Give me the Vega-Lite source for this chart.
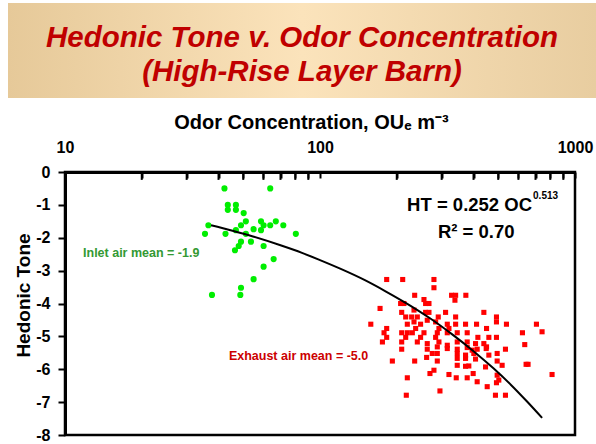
{
  "$schema": "https://vega.github.io/schema/vega-lite/v6.json",
  "padding": {"left": 8, "top": 3, "right": 0, "bottom": 0},
  "background": "white",
  "config": {"font": "Liberation Sans"},
  "datasets": {
    "green": [
      {"oc": 42.2, "ht": -0.5}, {"oc": 63.8, "ht": -0.5}, {"oc": 43.5, "ht": -1.0}, {"oc": 43.5, "ht": -1.15},
      {"oc": 46.8, "ht": -1.0}, {"oc": 46.8, "ht": -1.15}, {"oc": 50.2, "ht": -1.25}, {"oc": 36.5, "ht": -1.62},
      {"oc": 35.4, "ht": -1.88}, {"oc": 42.6, "ht": -1.88}, {"oc": 46.8, "ht": -1.77}, {"oc": 49.0, "ht": -1.62},
      {"oc": 51.2, "ht": -1.5}, {"oc": 51.2, "ht": -1.88}, {"oc": 54.9, "ht": -1.74}, {"oc": 58.7, "ht": -1.5},
      {"oc": 58.7, "ht": -1.77}, {"oc": 60.1, "ht": -1.62}, {"oc": 63.8, "ht": -1.62}, {"oc": 67.1, "ht": -1.5},
      {"oc": 71.8, "ht": -1.62}, {"oc": 80.4, "ht": -1.88}, {"oc": 49.0, "ht": -2.12}, {"oc": 48.0, "ht": -2.25},
      {"oc": 46.4, "ht": -2.38}, {"oc": 53.6, "ht": -2.12}, {"oc": 60.1, "ht": -2.25}, {"oc": 65.8, "ht": -2.65},
      {"oc": 60.1, "ht": -2.88}, {"oc": 54.9, "ht": -3.26}, {"oc": 49.0, "ht": -3.52}, {"oc": 48.7, "ht": -3.74},
      {"oc": 37.7, "ht": -3.74}
    ],
    "red": [
      {"oc": 182.6, "ht": -3.27}, {"oc": 211.0, "ht": -3.27}, {"oc": 279.8, "ht": -3.27}, {"oc": 279.8, "ht": -3.52},
      {"oc": 235.1, "ht": -3.75}, {"oc": 328.1, "ht": -3.75}, {"oc": 340.3, "ht": -3.75}, {"oc": 373.2, "ht": -3.75},
      {"oc": 338.2, "ht": -3.9}, {"oc": 255.7, "ht": -3.88}, {"oc": 207.1, "ht": -4.0}, {"oc": 213.4, "ht": -4.0},
      {"oc": 259.5, "ht": -4.0}, {"oc": 267.5, "ht": -4.0}, {"oc": 172.0, "ht": -4.15}, {"oc": 233.7, "ht": -4.2},
      {"oc": 259.5, "ht": -4.27}, {"oc": 267.5, "ht": -4.27}, {"oc": 310.8, "ht": -4.27}, {"oc": 439.1, "ht": -4.27},
      {"oc": 209.1, "ht": -4.27}, {"oc": 216.8, "ht": -4.41}, {"oc": 228.8, "ht": -4.41}, {"oc": 240.8, "ht": -4.41},
      {"oc": 290.9, "ht": -4.41}, {"oc": 340.3, "ht": -4.41}, {"oc": 492.1, "ht": -4.41}, {"oc": 158.2, "ht": -4.63},
      {"oc": 220.0, "ht": -4.63}, {"oc": 233.7, "ht": -4.56}, {"oc": 248.0, "ht": -4.63}, {"oc": 284.1, "ht": -4.56},
      {"oc": 315.6, "ht": -4.63}, {"oc": 340.3, "ht": -4.63}, {"oc": 372.2, "ht": -4.63}, {"oc": 411.1, "ht": -4.63},
      {"oc": 492.1, "ht": -4.56}, {"oc": 538.5, "ht": -4.63}, {"oc": 705.9, "ht": -4.63}, {"oc": 182.6, "ht": -4.76},
      {"oc": 237.2, "ht": -4.76}, {"oc": 263.4, "ht": -4.51}, {"oc": 292.7, "ht": -4.76}, {"oc": 320.4, "ht": -4.76},
      {"oc": 449.9, "ht": -4.76}, {"oc": 178.3, "ht": -4.89}, {"oc": 209.1, "ht": -4.89}, {"oc": 220.0, "ht": -4.89},
      {"oc": 230.2, "ht": -4.89}, {"oc": 255.7, "ht": -4.89}, {"oc": 288.4, "ht": -4.89}, {"oc": 315.6, "ht": -4.89},
      {"oc": 345.3, "ht": -4.89}, {"oc": 377.8, "ht": -4.89}, {"oc": 622.1, "ht": -4.89}, {"oc": 742.8, "ht": -4.86},
      {"oc": 182.6, "ht": -5.03}, {"oc": 216.8, "ht": -5.03}, {"oc": 248.0, "ht": -5.03}, {"oc": 284.1, "ht": -5.03},
      {"oc": 416.0, "ht": -5.03}, {"oc": 459.4, "ht": -5.03}, {"oc": 492.1, "ht": -5.03}, {"oc": 175.7, "ht": -5.17},
      {"oc": 209.1, "ht": -5.17}, {"oc": 240.8, "ht": -5.17}, {"oc": 263.4, "ht": -5.22}, {"oc": 292.7, "ht": -5.17},
      {"oc": 315.6, "ht": -5.27}, {"oc": 345.3, "ht": -5.17}, {"oc": 377.8, "ht": -5.17}, {"oc": 407.3, "ht": -5.22},
      {"oc": 439.1, "ht": -5.22}, {"oc": 449.9, "ht": -5.32}, {"oc": 209.1, "ht": -5.39}, {"oc": 263.4, "ht": -5.39},
      {"oc": 288.4, "ht": -5.32}, {"oc": 315.6, "ht": -5.37}, {"oc": 345.3, "ht": -5.39}, {"oc": 377.8, "ht": -5.34},
      {"oc": 395.1, "ht": -5.42}, {"oc": 413.4, "ht": -5.39}, {"oc": 448.5, "ht": -5.37}, {"oc": 533.7, "ht": -5.39},
      {"oc": 635.2, "ht": -5.25}, {"oc": 275.6, "ht": -5.52}, {"oc": 288.4, "ht": -5.52}, {"oc": 345.3, "ht": -5.52},
      {"oc": 372.2, "ht": -5.57}, {"oc": 401.1, "ht": -5.52}, {"oc": 459.4, "ht": -5.57}, {"oc": 495.2, "ht": -5.52},
      {"oc": 192.2, "ht": -5.75}, {"oc": 235.1, "ht": -5.75}, {"oc": 261.9, "ht": -5.64}, {"oc": 288.4, "ht": -5.75},
      {"oc": 345.3, "ht": -5.67}, {"oc": 372.2, "ht": -5.67}, {"oc": 407.3, "ht": -5.69}, {"oc": 495.2, "ht": -5.75},
      {"oc": 517.9, "ht": -5.88}, {"oc": 643.0, "ht": -5.85}, {"oc": 654.6, "ht": -5.85}, {"oc": 279.8, "ht": -6.03},
      {"oc": 345.3, "ht": -5.88}, {"oc": 372.2, "ht": -5.91}, {"oc": 383.4, "ht": -5.9}, {"oc": 445.8, "ht": -5.93},
      {"oc": 269.9, "ht": -6.13}, {"oc": 320.4, "ht": -6.16}, {"oc": 398.7, "ht": -6.13}, {"oc": 495.2, "ht": -6.18},
      {"oc": 812.9, "ht": -6.16}, {"oc": 220.0, "ht": -6.26}, {"oc": 342.2, "ht": -6.26}, {"oc": 377.8, "ht": -6.26},
      {"oc": 502.6, "ht": -6.33}, {"oc": 413.4, "ht": -6.38}, {"oc": 492.1, "ht": -6.41}, {"oc": 452.6, "ht": -6.53},
      {"oc": 295.4, "ht": -6.66}, {"oc": 218.0, "ht": -6.79}, {"oc": 487.6, "ht": -6.79}, {"oc": 533.7, "ht": -6.79}
    ],
    "fit": [
      {"oc": 37.4, "ht": -1.62}, {"oc": 45, "ht": -1.78}, {"oc": 55, "ht": -1.97}, {"oc": 70, "ht": -2.23},
      {"oc": 85, "ht": -2.46}, {"oc": 100, "ht": -2.68}, {"oc": 120, "ht": -2.94}, {"oc": 150, "ht": -3.29},
      {"oc": 180, "ht": -3.62}, {"oc": 220, "ht": -4.01}, {"oc": 270, "ht": -4.45}, {"oc": 330, "ht": -4.94},
      {"oc": 400, "ht": -5.45}, {"oc": 480, "ht": -5.98}, {"oc": 560, "ht": -6.47}, {"oc": 650, "ht": -6.99},
      {"oc": 743, "ht": -7.48}
    ],
    "minorticks": [
      {"oc": 20}, {"oc": 30}, {"oc": 40}, {"oc": 50}, {"oc": 60}, {"oc": 70}, {"oc": 80}, {"oc": 90},
      {"oc": 200}, {"oc": 300}, {"oc": 400}, {"oc": 500}, {"oc": 600}, {"oc": 700}, {"oc": 800}, {"oc": 900}
    ]
  },
  "spacing": 12,
  "vconcat": [
    {
      "width": 588,
      "height": 95,
      "view": {"stroke": null, "fill": {"gradient": "linear", "x1": 0, "x2": 1, "y1": 0, "y2": 0, "stops": [{"offset": 0, "color": "#e6c999"}, {"offset": 0.5, "color": "#fbe3bb"}, {"offset": 1, "color": "#e8cda0"}]}},
      "data": {"values": [{"title": "Hedonic Tone v. Odor Concentration\n(High-Rise Layer Barn)"}]},
      "mark": {"type": "text", "lineBreak": "\n", "fontSize": 29.5, "fontWeight": "bold", "fontStyle": "italic", "color": "#c00000", "lineHeight": 34, "baseline": "middle", "dy": -13},
      "encoding": {"text": {"field": "title"}}
    },
    {
      "spacing": 4,
      "hconcat": [
        {
          "width": 1,
          "height": 10,
          "view": {"stroke": null},
          "data": {"values": [{}]},
          "mark": {"type": "text"},
          "encoding": {"text": {"value": ""}}
        },
        {
          "width": 510,
          "height": 263,
          "view": {"stroke": "black", "strokeWidth": 2.5},
          "layer": [
            {
              "encoding": {
                "x": {"field": "oc", "type": "quantitative",
                  "scale": {"type": "log", "domain": [10, 1000], "nice": false},
                  "axis": {"orient": "top", "title": "Odor Concentration, OUₑ m⁻³", "titleX": 246,
                    "values": [10, 20, 30, 40, 50, 60, 70, 80, 90, 100, 200, 300, 400, 500, 600, 700, 800, 900, 1000],
                    "labelExpr": "datum.value == 10 || datum.value == 100 || datum.value == 1000 ? '' + datum.value : ''",
                    "labelFlush": false, "labelOverlap": false, "grid": false, "zindex": 1,
                    "tickSize": -6, "tickWidth": 2, "tickColor": "black",
                    "domainColor": "black", "domainWidth": 3,
                    "labelFontSize": 16, "labelFontWeight": "bold", "labelColor": "black", "labelPadding": 23,
                    "titleFontSize": 20, "titleFontWeight": "bold", "titleColor": "black", "titlePadding": 7}},
                "y": {"field": "ht", "type": "quantitative",
                  "scale": {"domain": [-8, 0], "nice": false},
                  "axis": {"title": "Hedonic Tone", "titleY": 123, "values": [0, -1, -2, -3, -4, -5, -6, -7, -8],
                    "labelExpr": "'' + datum.value", "labelOverlap": false, "labelFlush": false, "grid": false, "zindex": 1,
                    "tickSize": 7, "tickWidth": 2, "tickColor": "black",
                    "domainColor": "black", "domainWidth": 3,
                    "labelFontSize": 16, "labelFontWeight": "bold", "labelColor": "black", "labelPadding": 8,
                    "titleFontSize": 19, "titleFontWeight": "bold", "titleColor": "black", "titlePadding": 2}}
              },
              "layer": [
                {"data": {"name": "green"}, "mark": {"type": "circle", "size": 38, "color": "#00ee00", "opacity": 1}},
                {"data": {"name": "red"}, "mark": {"type": "square", "size": 26, "color": "#ff0000", "opacity": 1}},
                {"data": {"name": "fit"}, "mark": {"type": "line", "color": "black", "strokeWidth": 2, "interpolate": "monotone"}}
              ]
            },
            {
              "data": {"name": "minorticks"},
              "mark": {"type": "rule", "color": "black", "strokeWidth": 2},
              "encoding": {
                "x": {"field": "oc", "type": "quantitative",
                  "scale": {"type": "log", "domain": [10, 1000], "nice": false},
                  "axis": {"orient": "top", "title": "Odor Concentration, OUₑ m⁻³", "titleX": 246,
                    "values": [10, 20, 30, 40, 50, 60, 70, 80, 90, 100, 200, 300, 400, 500, 600, 700, 800, 900, 1000],
                    "labelExpr": "datum.value == 10 || datum.value == 100 || datum.value == 1000 ? '' + datum.value : ''",
                    "labelFlush": false, "labelOverlap": false, "grid": false, "zindex": 1,
                    "tickSize": -6, "tickWidth": 2, "tickColor": "black",
                    "domainColor": "black", "domainWidth": 3,
                    "labelFontSize": 16, "labelFontWeight": "bold", "labelColor": "black", "labelPadding": 23,
                    "titleFontSize": 20, "titleFontWeight": "bold", "titleColor": "black", "titlePadding": 7}},
                "y": {"datum": 0, "type": "quantitative",
                  "scale": {"domain": [-8, 0], "nice": false},
                  "axis": {"title": "Hedonic Tone", "titleY": 123, "values": [0, -1, -2, -3, -4, -5, -6, -7, -8],
                    "labelExpr": "'' + datum.value", "labelOverlap": false, "labelFlush": false, "grid": false, "zindex": 1,
                    "tickSize": 7, "tickWidth": 2, "tickColor": "black",
                    "domainColor": "black", "domainWidth": 3,
                    "labelFontSize": 16, "labelFontWeight": "bold", "labelColor": "black", "labelPadding": 8,
                    "titleFontSize": 19, "titleFontWeight": "bold", "titleColor": "black", "titlePadding": 2}},
                "y2": {"datum": -0.24}
              }
            },
            {
              "data": {"values": [{"label": "HT = 0.252 OC"}]},
              "mark": {"type": "text", "align": "right", "baseline": "middle", "fontSize": 18.5, "fontWeight": "bold", "color": "black"},
              "encoding": {
                "text": {"field": "label"},
                "x": {"datum": 678.6, "type": "quantitative",
                  "scale": {"type": "log", "domain": [10, 1000], "nice": false},
                  "axis": {"orient": "top", "title": "Odor Concentration, OUₑ m⁻³", "titleX": 246,
                    "values": [10, 20, 30, 40, 50, 60, 70, 80, 90, 100, 200, 300, 400, 500, 600, 700, 800, 900, 1000],
                    "labelExpr": "datum.value == 10 || datum.value == 100 || datum.value == 1000 ? '' + datum.value : ''",
                    "labelFlush": false, "labelOverlap": false, "grid": false, "zindex": 1,
                    "tickSize": -6, "tickWidth": 2, "tickColor": "black",
                    "domainColor": "black", "domainWidth": 3,
                    "labelFontSize": 16, "labelFontWeight": "bold", "labelColor": "black", "labelPadding": 23,
                    "titleFontSize": 20, "titleFontWeight": "bold", "titleColor": "black", "titlePadding": 7}},
                "y": {"datum": -1.01, "type": "quantitative",
                  "scale": {"domain": [-8, 0], "nice": false},
                  "axis": {"title": "Hedonic Tone", "titleY": 123, "values": [0, -1, -2, -3, -4, -5, -6, -7, -8],
                    "labelExpr": "'' + datum.value", "labelOverlap": false, "labelFlush": false, "grid": false, "zindex": 1,
                    "tickSize": 7, "tickWidth": 2, "tickColor": "black",
                    "domainColor": "black", "domainWidth": 3,
                    "labelFontSize": 16, "labelFontWeight": "bold", "labelColor": "black", "labelPadding": 8,
                    "titleFontSize": 19, "titleFontWeight": "bold", "titleColor": "black", "titlePadding": 2}}
              }
            },
            {
              "data": {"values": [{"label": "0.513"}]},
              "mark": {"type": "text", "align": "left", "baseline": "middle", "fontSize": 10, "fontWeight": "bold", "color": "black", "dx": 1, "dy": -9},
              "encoding": {
                "text": {"field": "label"},
                "x": {"datum": 678.6, "type": "quantitative",
                  "scale": {"type": "log", "domain": [10, 1000], "nice": false},
                  "axis": {"orient": "top", "title": "Odor Concentration, OUₑ m⁻³", "titleX": 246,
                    "values": [10, 20, 30, 40, 50, 60, 70, 80, 90, 100, 200, 300, 400, 500, 600, 700, 800, 900, 1000],
                    "labelExpr": "datum.value == 10 || datum.value == 100 || datum.value == 1000 ? '' + datum.value : ''",
                    "labelFlush": false, "labelOverlap": false, "grid": false, "zindex": 1,
                    "tickSize": -6, "tickWidth": 2, "tickColor": "black",
                    "domainColor": "black", "domainWidth": 3,
                    "labelFontSize": 16, "labelFontWeight": "bold", "labelColor": "black", "labelPadding": 23,
                    "titleFontSize": 20, "titleFontWeight": "bold", "titleColor": "black", "titlePadding": 7}},
                "y": {"datum": -1.01, "type": "quantitative",
                  "scale": {"domain": [-8, 0], "nice": false},
                  "axis": {"title": "Hedonic Tone", "titleY": 123, "values": [0, -1, -2, -3, -4, -5, -6, -7, -8],
                    "labelExpr": "'' + datum.value", "labelOverlap": false, "labelFlush": false, "grid": false, "zindex": 1,
                    "tickSize": 7, "tickWidth": 2, "tickColor": "black",
                    "domainColor": "black", "domainWidth": 3,
                    "labelFontSize": 16, "labelFontWeight": "bold", "labelColor": "black", "labelPadding": 8,
                    "titleFontSize": 19, "titleFontWeight": "bold", "titleColor": "black", "titlePadding": 2}}
              }
            },
            {
              "data": {"values": [{"label": "R² = 0.70"}]},
              "mark": {"type": "text", "align": "center", "baseline": "middle", "fontSize": 18.5, "fontWeight": "bold", "color": "black"},
              "encoding": {
                "text": {"field": "label"},
                "x": {"datum": 410, "type": "quantitative",
                  "scale": {"type": "log", "domain": [10, 1000], "nice": false},
                  "axis": {"orient": "top", "title": "Odor Concentration, OUₑ m⁻³", "titleX": 246,
                    "values": [10, 20, 30, 40, 50, 60, 70, 80, 90, 100, 200, 300, 400, 500, 600, 700, 800, 900, 1000],
                    "labelExpr": "datum.value == 10 || datum.value == 100 || datum.value == 1000 ? '' + datum.value : ''",
                    "labelFlush": false, "labelOverlap": false, "grid": false, "zindex": 1,
                    "tickSize": -6, "tickWidth": 2, "tickColor": "black",
                    "domainColor": "black", "domainWidth": 3,
                    "labelFontSize": 16, "labelFontWeight": "bold", "labelColor": "black", "labelPadding": 23,
                    "titleFontSize": 20, "titleFontWeight": "bold", "titleColor": "black", "titlePadding": 7}},
                "y": {"datum": -1.83, "type": "quantitative",
                  "scale": {"domain": [-8, 0], "nice": false},
                  "axis": {"title": "Hedonic Tone", "titleY": 123, "values": [0, -1, -2, -3, -4, -5, -6, -7, -8],
                    "labelExpr": "'' + datum.value", "labelOverlap": false, "labelFlush": false, "grid": false, "zindex": 1,
                    "tickSize": 7, "tickWidth": 2, "tickColor": "black",
                    "domainColor": "black", "domainWidth": 3,
                    "labelFontSize": 16, "labelFontWeight": "bold", "labelColor": "black", "labelPadding": 8,
                    "titleFontSize": 19, "titleFontWeight": "bold", "titleColor": "black", "titlePadding": 2}}
              }
            },
            {
              "data": {"values": [{"label": "Inlet air mean = -1.9"}]},
              "mark": {"type": "text", "align": "center", "baseline": "middle", "fontSize": 12.5, "fontWeight": "bold", "color": "#339933"},
              "encoding": {
                "text": {"field": "label"},
                "x": {"datum": 19.9, "type": "quantitative",
                  "scale": {"type": "log", "domain": [10, 1000], "nice": false},
                  "axis": {"orient": "top", "title": "Odor Concentration, OUₑ m⁻³", "titleX": 246,
                    "values": [10, 20, 30, 40, 50, 60, 70, 80, 90, 100, 200, 300, 400, 500, 600, 700, 800, 900, 1000],
                    "labelExpr": "datum.value == 10 || datum.value == 100 || datum.value == 1000 ? '' + datum.value : ''",
                    "labelFlush": false, "labelOverlap": false, "grid": false, "zindex": 1,
                    "tickSize": -6, "tickWidth": 2, "tickColor": "black",
                    "domainColor": "black", "domainWidth": 3,
                    "labelFontSize": 16, "labelFontWeight": "bold", "labelColor": "black", "labelPadding": 23,
                    "titleFontSize": 20, "titleFontWeight": "bold", "titleColor": "black", "titlePadding": 7}},
                "y": {"datum": -2.46, "type": "quantitative",
                  "scale": {"domain": [-8, 0], "nice": false},
                  "axis": {"title": "Hedonic Tone", "titleY": 123, "values": [0, -1, -2, -3, -4, -5, -6, -7, -8],
                    "labelExpr": "'' + datum.value", "labelOverlap": false, "labelFlush": false, "grid": false, "zindex": 1,
                    "tickSize": 7, "tickWidth": 2, "tickColor": "black",
                    "domainColor": "black", "domainWidth": 3,
                    "labelFontSize": 16, "labelFontWeight": "bold", "labelColor": "black", "labelPadding": 8,
                    "titleFontSize": 19, "titleFontWeight": "bold", "titleColor": "black", "titlePadding": 2}}
              }
            },
            {
              "data": {"values": [{"label": "Exhaust air mean = -5.0"}]},
              "mark": {"type": "text", "align": "center", "baseline": "middle", "fontSize": 12.5, "fontWeight": "bold", "color": "#cc0000"},
              "encoding": {
                "text": {"field": "label"},
                "x": {"datum": 82.4, "type": "quantitative",
                  "scale": {"type": "log", "domain": [10, 1000], "nice": false},
                  "axis": {"orient": "top", "title": "Odor Concentration, OUₑ m⁻³", "titleX": 246,
                    "values": [10, 20, 30, 40, 50, 60, 70, 80, 90, 100, 200, 300, 400, 500, 600, 700, 800, 900, 1000],
                    "labelExpr": "datum.value == 10 || datum.value == 100 || datum.value == 1000 ? '' + datum.value : ''",
                    "labelFlush": false, "labelOverlap": false, "grid": false, "zindex": 1,
                    "tickSize": -6, "tickWidth": 2, "tickColor": "black",
                    "domainColor": "black", "domainWidth": 3,
                    "labelFontSize": 16, "labelFontWeight": "bold", "labelColor": "black", "labelPadding": 23,
                    "titleFontSize": 20, "titleFontWeight": "bold", "titleColor": "black", "titlePadding": 7}},
                "y": {"datum": -5.6, "type": "quantitative",
                  "scale": {"domain": [-8, 0], "nice": false},
                  "axis": {"title": "Hedonic Tone", "titleY": 123, "values": [0, -1, -2, -3, -4, -5, -6, -7, -8],
                    "labelExpr": "'' + datum.value", "labelOverlap": false, "labelFlush": false, "grid": false, "zindex": 1,
                    "tickSize": 7, "tickWidth": 2, "tickColor": "black",
                    "domainColor": "black", "domainWidth": 3,
                    "labelFontSize": 16, "labelFontWeight": "bold", "labelColor": "black", "labelPadding": 8,
                    "titleFontSize": 19, "titleFontWeight": "bold", "titleColor": "black", "titlePadding": 2}}
              }
            }
          ]
        }
      ]
    }
  ]
}
